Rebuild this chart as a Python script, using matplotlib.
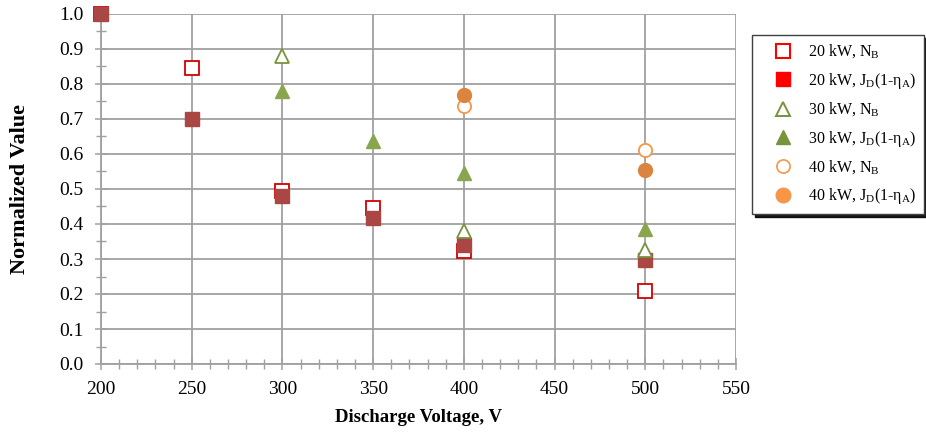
import matplotlib
matplotlib.use("Agg")
import matplotlib.pyplot as plt
from matplotlib.lines import Line2D
from matplotlib.ticker import MultipleLocator, FormatStrFormatter

plt.rcParams['font.family'] = ['Liberation Serif', 'DejaVu Serif']
plt.rcParams['mathtext.fontset'] = 'custom'
plt.rcParams['mathtext.rm'] = 'Liberation Serif'

# discharge voltage (V) and normalized values for each power level
v_20kw = [200, 250, 300, 350, 400, 500]
nb_20kw = [1.0, 0.845, 0.495, 0.445, 0.322, 0.21]
jd_20kw = [1.0, 0.70, 0.48, 0.417, 0.341, 0.298]

v_30kw = [300, 350, 400, 500]
nb_30kw_v = [300, 400, 500]
nb_30kw = [0.88, 0.38, 0.327]
jd_30kw = [0.78, 0.638, 0.547, 0.387]

v_40kw = [400, 500]
nb_40kw = [0.738, 0.61]
jd_40kw = [0.769, 0.555]

labels = [r'20 kW, N$_\mathregular{B}$',
          r'20 kW, J$_\mathregular{D}$(1-$\mathregular{\eta}_\mathregular{A}$)',
          r'30 kW, N$_\mathregular{B}$',
          r'30 kW, J$_\mathregular{D}$(1-$\mathregular{\eta}_\mathregular{A}$)',
          r'40 kW, N$_\mathregular{B}$',
          r'40 kW, J$_\mathregular{D}$(1-$\mathregular{\eta}_\mathregular{A}$)']

fig = plt.figure(figsize=(9.26, 4.32), dpi=100)
ax = fig.add_axes([101 / 926, 68 / 432, 635 / 926, 350 / 432])

grid_c = '#A0A0A0'
kw = dict(ls='none', zorder=3, clip_on=False)
ax.plot(v_20kw, nb_20kw, 's', ms=9.5, mfc='white', mec='#D40000', mew=1.3, **kw)
ax.plot(v_20kw, jd_20kw, 's', ms=10, mfc='#AA4643', mec='#AA4643', **kw)
ax.plot(nb_30kw_v, nb_30kw, '^', ms=10, mfc='white', mec='#77933C', mew=1.3, **kw)
ax.plot(v_30kw, jd_30kw, '^', ms=10.5, mfc='#89A54E', mec='#89A54E', **kw)
ax.plot(v_40kw, nb_40kw, 'o', ms=9.5, mfc='white', mec='#F79646', mew=1.3, **kw)
ax.plot(v_40kw, jd_40kw, 'o', ms=10, mfc='#DB843D', mec='#DB843D', **kw)

ax.set_xlim(200, 550)
ax.set_ylim(0, 1.0)
ax.xaxis.set_major_locator(MultipleLocator(50))
ax.xaxis.set_minor_locator(MultipleLocator(10))
ax.yaxis.set_major_locator(MultipleLocator(0.1))
ax.yaxis.set_minor_locator(MultipleLocator(0.05))
ax.yaxis.set_major_formatter(FormatStrFormatter('%.1f'))

ax.grid(True, which='major', color=grid_c, lw=1.3, zorder=0)
ax.set_axisbelow(True)
for s in ['top', 'right']:
    ax.spines[s].set_visible(False)
for s in ['left', 'bottom']:
    ax.spines[s].set_color(grid_c)
    ax.spines[s].set_linewidth(1.3)
ax.tick_params(which='major', direction='inout', length=8, width=1.1, color=grid_c,
               labelsize=14, labelcolor='black')
ax.tick_params(which='minor', direction='inout', length=7, width=1.0, color=grid_c)
ax.tick_params(axis='x', pad=8)
ax.tick_params(axis='y', pad=8.5)

ax.set_xlabel('Discharge Voltage, V', fontsize=13.5, fontweight='bold', labelpad=8)
ax.set_ylabel('Normalized Value', fontsize=16, fontweight='bold')
ax.yaxis.set_label_coords(-71 / 635, 0.5)

# legend swatches use the brighter theme colours
handles = [
    Line2D([], [], marker='s', ls='none', ms=9.5, mfc='white', mec='#FF0000', mew=1.5),
    Line2D([], [], marker='s', ls='none', ms=10, mfc='#FF0000', mec='#FF0000'),
    Line2D([], [], marker='^', ls='none', ms=10, mfc='white', mec='#77933C', mew=1.4),
    Line2D([], [], marker='^', ls='none', ms=10.5, mfc='#77933C', mec='#77933C'),
    Line2D([], [], marker='o', ls='none', ms=9.5, mfc='white', mec='#F79646', mew=1.2),
    Line2D([], [], marker='o', ls='none', ms=10.5, mfc='#F79646', mec='#F79646'),
]
leg = fig.legend(handles, labels, loc='upper left',
                 bbox_to_anchor=(752 / 926, 1 - 35 / 432), frameon=True,
                 fancybox=False, shadow={'color': 'black', 'alpha': 0.9},
                 edgecolor='#404040', fontsize=11.5, labelspacing=0.6,
                 handletextpad=0.1, borderpad=0.5, handlelength=2.9,
                 borderaxespad=0)
leg.get_frame().set_linewidth(1.0)

fig.savefig('out.png', dpi=100)
